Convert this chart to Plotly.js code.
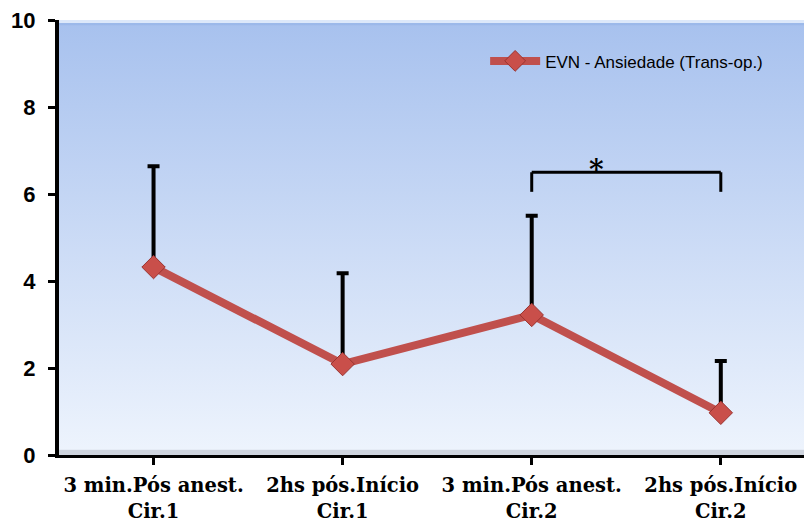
<!DOCTYPE html>
<html>
<head>
<meta charset="utf-8">
<script src="https://cdn.plot.ly/plotly-3.0.1.min.js"></script>
<style>html,body{margin:0;padding:0;background:#fff;}#chart{width:804px;height:527px;}</style>
</head>
<body>
<div id="chart"></div>
<script>
const categories = [
  "3 min.Pós anest.<br>Cir.1",
  "2hs pós.Início<br>Cir.1",
  "3 min.Pós anest.<br>Cir.2",
  "2hs pós.Início<br>Cir.2"
];
const means = [4.32, 2.09, 3.22, 0.97];
const errUp = [2.32, 2.09, 2.28, 1.19];
const seriesName = "EVN - Ansiedade (Trans-op.)";
const sigPair = [2, 3];
const sigLevel = 6.5;
const sigDrop = 0.45;
const sigLabel = "*";

const xIdx = categories.map((c, i) => i);

const gradSvg = '<svg xmlns="http://www.w3.org/2000/svg" width="1000" height="1000" preserveAspectRatio="none">' +
  '<defs><linearGradient id="g" x1="0" y1="0" x2="0" y2="1">' +
  '<stop offset="0" stop-color="#a7c1ee"/><stop offset="1" stop-color="#eef4fd"/></linearGradient></defs>' +
  '<rect width="1000" height="1000" fill="url(#g)"/>' +
  '<rect x="0" y="0" width="1000" height="7" fill="#e2ecfb" opacity="0.9"/>' +
  '<rect x="0" y="7" width="1000" height="5" fill="#8fb0e6" opacity="0.5"/>' +
  '<rect x="0" y="988" width="1000" height="12" fill="#c6ccd6" opacity="0.8"/>' +
  '</svg>';
const gradUri = 'data:image/svg+xml;charset=utf-8,' + encodeURIComponent(gradSvg);

const errTrace = {
  x: xIdx, y: means, type: 'scatter', mode: 'markers',
  marker: {color: 'rgba(0,0,0,0)', size: 2},
  error_y: {type: 'data', symmetric: false, array: errUp, arrayminus: means.map(() => 0),
            color: '#000', thickness: 4, width: 6},
  showlegend: false, hoverinfo: 'skip'
};
const lineTrace = {
  x: xIdx, y: means, type: 'scatter', mode: 'lines+markers', name: seriesName,
  line: {color: '#c0504d', width: 8},
  marker: {symbol: 'diamond', size: 18, color: '#c94f4a', line: {color: '#9a3330', width: 1}}
};

const layout = {
  width: 804, height: 527,
  margin: {l: 59, r: 0, t: 20, b: 72},
  paper_bgcolor: '#ffffff',
  plot_bgcolor: 'rgba(0,0,0,0)',
  images: [{source: gradUri, xref: 'paper', yref: 'paper', x: 0, y: 1, sizex: 1, sizey: 1,
            sizing: 'stretch', xanchor: 'left', yanchor: 'top', layer: 'below'}],
  xaxis: {
    range: [-0.5, 3.44], tickmode: 'array', tickvals: xIdx, ticktext: categories,
    tickson: 'boundaries', ticks: 'outside', ticklen: 7, tickwidth: 3, tickcolor: '#000',
    showline: true, linecolor: '#000', linewidth: 3, showgrid: false, zeroline: false,
    ticklabelstandoff: 4,
    tickfont: {family: 'DejaVu Serif, serif', size: 19.5, color: '#000', weight: 'bold'},
    fixedrange: true
  },
  yaxis: {
    range: [0, 10], tickvals: [0, 2, 4, 6, 8, 10], ticks: 'outside', ticklen: 7, tickwidth: 3,
    tickcolor: '#000', showline: true, linecolor: '#000', linewidth: 4, showgrid: false,
    zeroline: false, ticklabelstandoff: 8,
    tickfont: {family: 'Liberation Sans, Arial, sans-serif', size: 22, color: '#000', weight: 'bold'},
    fixedrange: true
  },
  legend: {
    x: 0.572, y: 0.905, xanchor: 'left', yanchor: 'middle', bgcolor: 'rgba(0,0,0,0)',
    itemwidth: 50, font: {family: 'Liberation Sans Narrow, Liberation Sans, sans-serif', size: 17, color: '#000'}
  },
  shapes: [
    {type: 'line', xref: 'x', yref: 'y', x0: sigPair[0], x1: sigPair[1], y0: sigLevel, y1: sigLevel, line: {color: '#000', width: 3}},
    {type: 'line', xref: 'x', yref: 'y', x0: sigPair[0], x1: sigPair[0], y0: sigLevel, y1: sigLevel - sigDrop, line: {color: '#000', width: 3}},
    {type: 'line', xref: 'x', yref: 'y', x0: sigPair[1], x1: sigPair[1], y0: sigLevel, y1: sigLevel - sigDrop, line: {color: '#000', width: 3}}
  ],
  annotations: [
    {x: sigPair[0] + 0.34, y: sigLevel, xref: 'x', yref: 'y', text: sigLabel, showarrow: false,
     yanchor: 'middle', yshift: 3, font: {family: 'DejaVu Serif, serif', size: 28, color: '#000', weight: 'bold'}}
  ]
};

Plotly.newPlot('chart', [errTrace, lineTrace], layout, {displayModeBar: false, staticPlot: true});
</script>
</body>
</html>
